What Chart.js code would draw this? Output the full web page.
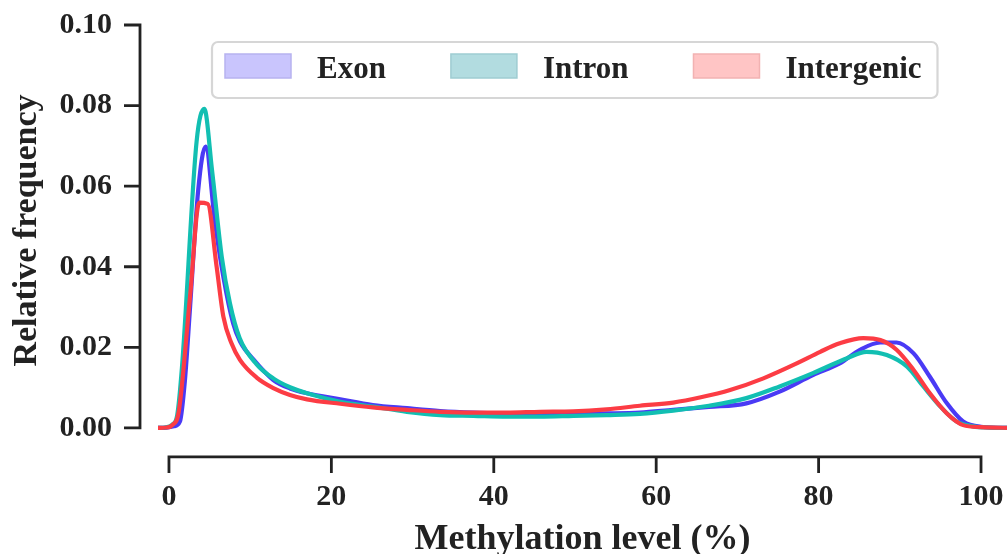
<!DOCTYPE html>
<html><head><meta charset="utf-8">
<script src="https://cdn.jsdelivr.net/npm/chart.js@4.4.1/dist/chart.umd.min.js"></script>
<style>html,body{margin:0;padding:0;background:#fff;overflow:hidden}</style>
</head><body>
<canvas id="c" width="1007" height="554"></canvas>
<script>
const seriesNames = ['Exon', 'Intron', 'Intergenic'];

const exonX = [-1.4, -0.3, 0.6, 1.35, 1.97, 2.6, 3.6, 4.5, 5.67, 6.7, 7.9, 8.74, 10.4, 12.85, 14.9, 17, 21.1, 25.1, 29.3, 33.4, 37.5, 41.6, 45.7, 49.8, 53.9, 58, 62.1, 66.5, 71.1, 75.2, 79.3, 82.6, 85.1, 87.6, 89.6, 91.7, 93.7, 95.8, 97.8, 100, 104];
const exonY = [0, 0.0001, 0.0004, 0.0016, 0.0119, 0.030, 0.059, 0.0698, 0.051, 0.0375, 0.026, 0.0215, 0.017, 0.0119, 0.0098, 0.0086, 0.0071, 0.0057, 0.0049, 0.0042, 0.0038, 0.0036, 0.0035, 0.0035, 0.0036, 0.0038, 0.0045, 0.0052, 0.0061, 0.0090, 0.0131, 0.0160, 0.0194, 0.0212, 0.0212, 0.0185, 0.0127, 0.0061, 0.0016, 0.0003, 0];

const intronX = [-1.4, -0.5, 0.4, 1.0, 1.6, 3.4, 4.35, 5.3, 6.5, 7.5, 8.7, 10.8, 12.85, 14.9, 17, 21.1, 25.1, 29.3, 33.4, 37.5, 41.6, 45.7, 49.8, 53.9, 58, 62.1, 66.5, 71.1, 75.2, 79.3, 83.5, 85.9, 88.4, 90.9, 92.9, 95, 97, 99, 101, 104];
const intronY = [0, 0.0001, 0.0008, 0.003, 0.015, 0.071, 0.0792, 0.064, 0.0425, 0.031, 0.0223, 0.0158, 0.0123, 0.0101, 0.0086, 0.0065, 0.0053, 0.0040, 0.0032, 0.0030, 0.0028, 0.0028, 0.0030, 0.0032, 0.0035, 0.0043, 0.0055, 0.0074, 0.0103, 0.0136, 0.0173, 0.0189, 0.0181, 0.0152, 0.0103, 0.0053, 0.0016, 0.0004, 0.0001, 0];

const intergenicX = [-1.4, -0.3, 0.4, 1.2, 2.6, 3.73, 4.77, 5.87, 6.7, 7.7, 8.74, 10.8, 12.85, 14.9, 17, 21.1, 25.1, 29.3, 33.4, 37.5, 41.6, 45.7, 49.8, 53.9, 58, 62.1, 65.5, 69.1, 73.2, 77.3, 80.2, 82.6, 85.5, 87.6, 89.6, 91.7, 93.7, 95.8, 97.8, 100, 104];
const intergenicY = [0, 0.0001, 0.0007, 0.004, 0.0327, 0.0559, 0.0556, 0.040, 0.0276, 0.021, 0.0169, 0.0125, 0.0099, 0.0082, 0.0071, 0.0060, 0.0051, 0.0045, 0.0040, 0.0038, 0.0038, 0.0040, 0.0041, 0.0046, 0.0055, 0.0063, 0.0076, 0.0094, 0.0123, 0.0160, 0.0189, 0.0210, 0.0223, 0.0218, 0.0194, 0.0144, 0.0086, 0.0036, 0.0007, 0.0002, 0];

const xTicks = [0, 20, 40, 60, 80, 100];
const xTickLabels = ['0', '20', '40', '60', '80', '100'];
const yTicks = [0, 0.02, 0.04, 0.06, 0.08, 0.10];
const yTickLabels = ['0.00', '0.02', '0.04', '0.06', '0.08', '0.10'];
const xTitle = 'Methylation level (%)';
const yTitle = 'Relative frequency';

const lineColors = ['#4a3af5', '#12bfb2', '#fc3c44'];
const patchFill = ['#c9c5fd', '#b2dce0', '#ffc5c5'];
const patchEdge = ['#b7b2ef', '#9fcdd2', '#f2b2b2'];
const FONT = '"Liberation Serif", "Times New Roman", serif';
const INK = '#222222';

Chart.defaults.font.family = FONT;

function pts(xs, ys) { return xs.map((x, i) => ({ x: x, y: ys[i] })); }

const spinePlugin = {
  id: 'spines',
  afterDraw(chart) {
    const ctx = chart.ctx, xs = chart.scales.x, ys = chart.scales.y;
    const sx = chart.chartArea.left - 18;
    const sy = ys.getPixelForValue(0) + 29;
    const tl = 16;
    ctx.save();
    ctx.strokeStyle = INK; ctx.lineWidth = 2.8; ctx.lineCap = 'butt'; ctx.lineJoin = 'miter';
    const yA = ys.getPixelForValue(yTicks[0]), yB = ys.getPixelForValue(yTicks[yTicks.length - 1]);
    ctx.beginPath();
    ctx.moveTo(sx - tl, yA); ctx.lineTo(sx, yA); ctx.lineTo(sx, yB); ctx.lineTo(sx - tl, yB);
    ctx.stroke();
    ctx.beginPath();
    for (let i = 1; i < yTicks.length - 1; i++) {
      const p = ys.getPixelForValue(yTicks[i]);
      ctx.moveTo(sx - tl, p); ctx.lineTo(sx, p);
    }
    ctx.stroke();
    const xA = xs.getPixelForValue(xTicks[0]), xB = xs.getPixelForValue(xTicks[xTicks.length - 1]);
    ctx.beginPath();
    ctx.moveTo(xA, sy + tl); ctx.lineTo(xA, sy); ctx.lineTo(xB, sy); ctx.lineTo(xB, sy + tl);
    ctx.stroke();
    ctx.beginPath();
    for (let i = 1; i < xTicks.length - 1; i++) {
      const p = xs.getPixelForValue(xTicks[i]);
      ctx.moveTo(p, sy); ctx.lineTo(p, sy + tl);
    }
    ctx.stroke();
    ctx.restore();
  }
};

const legendPlugin = {
  id: 'boxLegend',
  afterDraw(chart) {
    const ctx = chart.ctx, a = chart.chartArea;
    ctx.save();
    ctx.font = 'bold 31px ' + FONT;
    const left = a.left + 54, top = a.top + 17, h = 56;
    const padL = 13, padR = 16, patchW = 66, patchH = 24, gap = 26, colGap = 65;
    const widths = seriesNames.map(n => ctx.measureText(n).width);
    let w = padL + padR;
    widths.forEach((tw, i) => { w += patchW + gap + tw + (i < widths.length - 1 ? colGap : 0); });
    ctx.beginPath();
    ctx.roundRect(left, top, w, h, 6);
    ctx.fillStyle = 'rgba(255,255,255,0.85)';
    ctx.fill();
    ctx.lineWidth = 2.2; ctx.strokeStyle = '#d6d6d6';
    ctx.stroke();
    let x = left + padL;
    ctx.textBaseline = 'alphabetic'; ctx.textAlign = 'left';
    seriesNames.forEach((n, i) => {
      ctx.fillStyle = patchFill[i];
      ctx.fillRect(x, top + 12, patchW, patchH);
      ctx.lineWidth = 1.5; ctx.strokeStyle = patchEdge[i];
      ctx.strokeRect(x, top + 12, patchW, patchH);
      x += patchW + gap;
      ctx.fillStyle = INK;
      ctx.fillText(n, x, top + 36);
      x += widths[i] + colGap;
    });
    ctx.restore();
  }
};

const series = [pts(exonX, exonY), pts(intronX, intronY), pts(intergenicX, intergenicY)];

new Chart(document.getElementById('c'), {
  type: 'line',
  data: {
    datasets: seriesNames.map((n, i) => ({
      label: n,
      data: series[i],
      borderColor: lineColors[i],
      backgroundColor: patchFill[i],
      borderWidth: 4.2,
      pointRadius: 0,
      cubicInterpolationMode: 'monotone',
      fill: false,
      borderJoinStyle: 'round',
      borderCapStyle: 'round',
      order: 3 - i
    }))
  },
  options: {
    responsive: false,
    animation: false,
    events: [],
    layout: { padding: { top: 25, left: 0, right: 0, bottom: 0 } },
    plugins: { legend: { display: false }, tooltip: { enabled: false } },
    scales: {
      x: {
        type: 'linear', min: -1.35, max: 103.2,
        afterBuildTicks: s => { s.ticks = xTicks.map(v => ({ value: v })); },
        afterFit: s => { s.height = 118; s.paddingLeft = 0; s.paddingRight = 0; },
        grid: { display: false }, border: { display: false },
        ticks: { autoSkip: false, maxRotation: 0, padding: 35, color: INK,
          font: { size: 30, weight: 'bold' }, callback: (v, i) => xTickLabels[i] },
        title: { display: true, text: xTitle, color: INK,
          font: { size: 36, weight: 'bold', lineHeight: 1.2 }, padding: { top: 0, bottom: -7 } }
      },
      y: {
        type: 'linear', min: -0.002, max: 0.1,
        afterBuildTicks: s => { s.ticks = yTicks.map(v => ({ value: v })); },
        afterFit: s => { s.width = 158; s.paddingTop = 0; s.paddingBottom = 0; },
        grid: { display: false }, border: { display: false },
        ticks: { autoSkip: false, padding: 38, color: INK,
          font: { size: 30, weight: 'bold' }, callback: (v, i) => yTickLabels[i] },
        title: { display: true, text: yTitle, color: INK,
          font: { size: 34, weight: 'bold', lineHeight: 1.2 }, padding: { top: 7, bottom: 0 } }
      }
    }
  },
  plugins: [spinePlugin, legendPlugin]
});
</script>
</body></html>
